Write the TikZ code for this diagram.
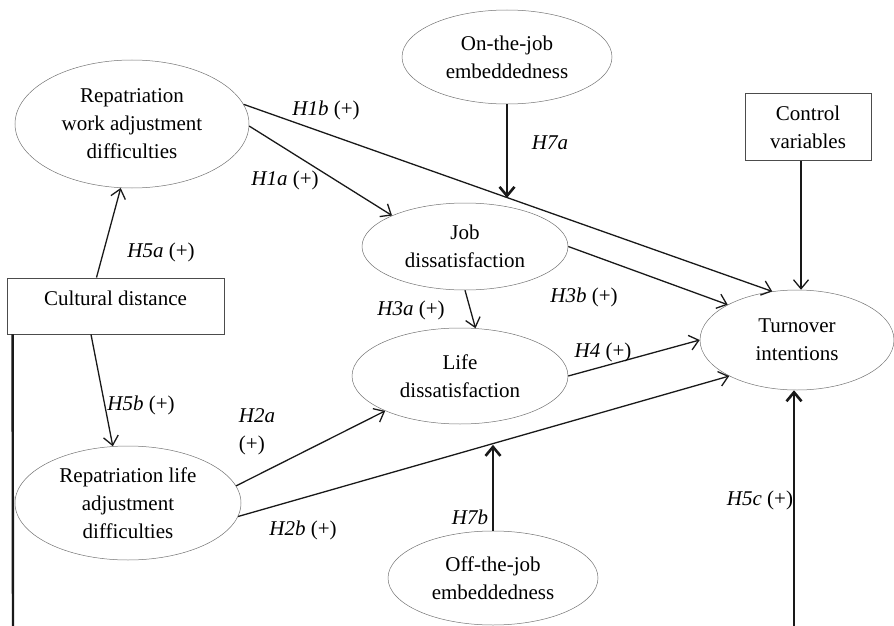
\documentclass[tikz,border=0pt]{standalone}
\usepackage{fontspec}
\setmainfont{Liberation Serif}
\usetikzlibrary{shapes.geometric,arrows.meta,calc}

\begin{document}
\begin{tikzpicture}[
        x=1pt, y=-1pt,
        font=\fontsize{21}{28}\selectfont,
        >={Straight Barb[length=9pt,width=15pt]},
    ]
    \tikzset{
        construct/.style = {ellipse, draw=black!55, line width=0.5pt, align=center, inner sep=0pt},
        boxnode/.style = {rectangle, draw=black!70, line width=0.9pt, align=center, inner sep=0pt},
        link/.style = {->, line width=1.3pt, black!90},
        moderator/.style = {->, line width=2.6pt, black!90},
        hyp/.style = {inner sep=1pt, align=left},
    }
    \useasboundingbox (0,0) rectangle (894,626);
    % constructs
    \node[construct, minimum width=234pt, minimum height=128pt] (rwad) at (132,124) {Repatriation\\work adjustment\\difficulties};
    \node[construct, minimum width=210pt, minimum height=94pt] (oje) at (507,57) {On-the-job\\embeddedness};
    \node[boxnode, minimum width=126pt, minimum height=67pt] (ctrl) at (808,127) {Control\\variables};
    \node[construct, minimum width=206pt, minimum height=87pt] (jd) at (465,246.5) {Job\\dissatisfaction};
    \node[boxnode, minimum width=217pt, text height=27pt, text depth=29pt] (cd) at (115.5,306) {Cultural distance};
    \node[construct, minimum width=216pt, minimum height=96pt] (ld) at (460,376) {Life\\dissatisfaction};
    \node[construct, minimum width=194pt, minimum height=100pt] (ti) at (797,340) {Turnover\\intentions};
    \node[construct, minimum width=226pt, minimum height=114pt] (rlad) at (128,503) {Repatriation life\\adjustment\\difficulties};
    \node[construct, minimum width=210pt, minimum height=94pt] (ofe) at (493,578) {Off-the-job\\embeddedness};
    \coordinate (cdfoot) at (13,626);
    \coordinate (tifoot) at (794,626);

    % paths
    \draw[link] ([xshift=-19pt]cd.north) -- (rwad.-100);
    \draw[link] ([xshift=-24.5pt]cd.south) -- (rlad.105);
    \draw[link] (rwad.-1) -- (jd.157);
    \draw[link] (rwad.10) -- (ti.117);
    \coordinate (h1bmid) at ($(rwad.10)!0.5!(ti.117)$);
    \draw[link] (jd.east) -- (ti.153);
    \draw[link] (jd.south) -- (ld.72);
    \draw[link] (ld.east) -- (ti.west);
    \draw[link] ([xshift=-7pt]ctrl.south) -- ([xshift=-7pt]ctrl.south |- ti.north);
    \draw[link] (rlad.9) -- (ld.-155);
    \draw[link] (rlad.-7) -- (ti.-152);
    \coordinate (h2bmid) at ($(rlad.-7)!0.51!(ti.-152)$);
    \draw[moderator] (oje.south) -- (oje.south |- h1bmid);
    \draw[moderator] (ofe.north) -- (ofe.north |- h2bmid);
    \draw[line width=2.4pt, black!90] ([xshift=6pt]cd.south west) -- (cdfoot);
    \draw[moderator] (tifoot) -- (tifoot |- ti.south);

    % hypothesis labels
    \node[hyp] (lh5a) at (161,252) {\textit{H5a} (+)};
    \node[hyp] (lh5b) at (141,405) {\textit{H5b} (+)};
    \node[hyp] (lh1a) at (285,180) {\textit{H1a} (+)};
    \node[hyp] (lh1b) at (326,110) {\textit{H1b} (+)};
    \node[hyp] (lh7a) at (550,143) {\textit{H7a}};
    \node[hyp] (lh3b) at (584,297) {\textit{H3b} (+)};
    \node[hyp] (lh3a) at (411,310) {\textit{H3a} (+)};
    \node[hyp] (lh4) at (603,352) {\textit{H4} (+)};
    \node[hyp] (lh2a) at (257,432) {\textit{H2a}\\(+)};
    \node[hyp] (lh2b) at (303,530) {\textit{H2b} (+)};
    \node[hyp] (lh7b) at (470,517) {\textit{H7b}};
    \node[hyp] (lh5c) at (760,500) {\textit{H5c} (+)};
\end{tikzpicture}
\end{document}
